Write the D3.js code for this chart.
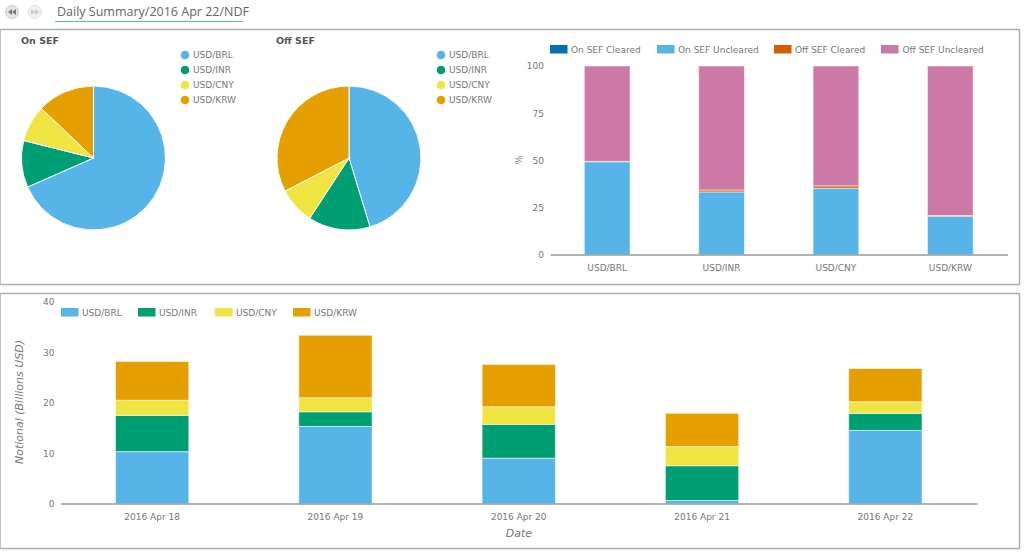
<!DOCTYPE html>
<html lang="en">
<head>
<meta charset="UTF-8">
<title>Daily Summary</title>
<script src="https://d3js.org/d3.v7.min.js"></script>
<style>
    html, body { margin: 0; padding: 0; background: #fff; overflow: hidden; }
    svg { display: block; }
    text { font-family: "DejaVu Sans", sans-serif; font-size: 9px; fill: #777; }
    .crumb { font-family: "Open Sans", sans-serif; font-size: 12.5px; fill: #666; }
    .pie-title { font-weight: bold; font-size: 9.5px; fill: #555; }
    .axis-label { font-style: italic; font-size: 11px; fill: #777; }
    .panel { fill: #fff; stroke: #b0b0b0; stroke-width: 1.5px; }
    .domain { stroke: #666; stroke-width: 1.2px; }
</style>
</head>
<body>
<svg width="1024" height="552"></svg>
<script>
const pairs = ["USD/BRL", "USD/INR", "USD/CNY", "USD/KRW"];
const pairColors = ["#56B4E9", "#009E73", "#F0E442", "#E69F00"];

const onSefShare = [68.4, 10.5, 8.2, 12.9];
const offSefShare = [45.3, 13.9, 8.2, 32.6];

const clearKeys = ["On SEF Cleared", "On SEF Uncleared", "Off SEF Cleared", "Off SEF Uncleared"];
const clearColors = ["#0072B2", "#56B4E9", "#D55E00", "#CC79A7"];
const onCleared = [0, 0, 0, 0];
const onUncleared = [49.2, 33.2, 35.2, 20.3];
const offCleared = [0.2, 1, 1.2, 0.4];
const offUncleared = [50.6, 65.8, 63.6, 79.3];

const dates = ["2016 Apr 18", "2016 Apr 19", "2016 Apr 20", "2016 Apr 21", "2016 Apr 22"];
const brl = [10.3, 15.3, 9, 0.6, 14.5];
const inr = [7.2, 2.9, 6.7, 6.9, 3.4];
const cny = [3, 2.8, 3.5, 3.8, 2.3];
const krw = [7.7, 12.4, 8.4, 6.6, 6.6];

const svg = d3.select("svg");

// header
svg.append("circle").attr("cx", 12).attr("cy", 12).attr("r", 6.5).attr("fill", "#e4e4e4").attr("stroke", "#ccc");
svg.append("circle").attr("cx", 35).attr("cy", 12).attr("r", 6.5).attr("fill", "#f1f1f1").attr("stroke", "#e4e4e4");
svg.append("path").attr("d", "M12 9 L8 12 L12 15 Z M16 9 L12 12 L16 15 Z").attr("fill", "#777");
svg.append("path").attr("d", "M31 9 L35 12 L31 15 Z M35 9 L39 12 L35 15 Z").attr("fill", "#ccc");
svg.append("text").attr("class", "crumb").attr("x", 57).attr("y", 16).text("Daily Summary/2016 Apr 22/NDF");
svg.append("line").attr("x1", 55).attr("x2", 243).attr("y1", 21.5).attr("y2", 21.5).attr("stroke", "#56B4E9");

svg.append("rect").attr("class", "panel").attr("x", 0).attr("y", 29.5).attr("width", 1019.5).attr("height", 255);
svg.append("rect").attr("class", "panel").attr("x", 0).attr("y", 293.5).attr("width", 1019.5).attr("height", 255);

// pies
function drawPie(values, title, cx, titleX, legendX) {
    const arc = d3.arc().innerRadius(0).outerRadius(72);
    const pie = d3.pie().sort(null);
    svg.append("g").attr("transform", `translate(${cx},158)`)
        .selectAll("path").data(pie(values)).enter().append("path")
        .attr("d", arc)
        .attr("fill", (d, i) => pairColors[i])
        .attr("stroke", "#fff")
        .attr("stroke-width", 1);
    svg.append("text").attr("class", "pie-title").attr("x", titleX).attr("y", 44).text(title);
    const item = svg.append("g").selectAll("g").data(pairs).enter().append("g")
        .attr("transform", (d, i) => `translate(${legendX},${55 + i * 15})`);
    item.append("circle").attr("r", 4.3).attr("fill", (d, i) => pairColors[i]);
    item.append("text").attr("x", 8).attr("y", 3.2).text(d => d);
}
drawPie(onSefShare, "On SEF", 93.5, 21, 185);
drawPie(offSefShare, "Off SEF", 349, 276, 441);

function drawStack(cats, seriesValues, colors, xRange, yRange, yMax, yTicks, padding) {
    const rows = cats.map((c, i) => {
        const r = { cat: c };
        seriesValues.forEach((s, k) => { r[k] = s[i]; });
        return r;
    });
    const x = d3.scaleBand().domain(cats).range(xRange).paddingInner(padding).paddingOuter(padding / 2);
    const y = d3.scaleLinear().domain([0, yMax]).range(yRange);
    const layers = d3.stack().keys(seriesValues.map((s, k) => k))(rows);

    svg.append("g").selectAll("g").data(layers).enter().append("g")
        .attr("fill", (d, i) => colors[i])
        .selectAll("rect").data(d => d).enter().append("rect")
        .attr("x", d => x(d.data.cat))
        .attr("y", d => y(d[1]))
        .attr("width", x.bandwidth())
        .attr("height", d => y(d[0]) - y(d[1]))
        .attr("stroke", "#fff")
        .attr("stroke-opacity", 0.55)
        .attr("stroke-width", 1);

    const xAxis = svg.append("g").attr("transform", `translate(0,${yRange[0]})`)
        .call(d3.axisBottom(x).tickSize(0).tickPadding(10));
    const yAxis = svg.append("g").attr("transform", `translate(${xRange[0]},0)`)
        .call(d3.axisLeft(y).tickValues(yTicks).tickSize(0).tickPadding(6));
    yAxis.select(".domain").remove();
    xAxis.selectAll("text").style("font-family", null).style("font-size", null);
    xAxis.attr("font-family", null).attr("font-size", null);
    yAxis.attr("font-family", null).attr("font-size", null);
}

function drawLegend(keys, colors, xs, textXs, yTop) {
    keys.forEach((k, i) => {
        svg.append("rect").attr("x", xs[i]).attr("y", yTop).attr("width", 17.5).attr("height", 8.5).attr("fill", colors[i]);
        svg.append("text").attr("x", textXs[i]).attr("y", yTop + 7.5).text(k);
    });
}

// cleared share
drawStack(pairs, [onCleared, onUncleared, offCleared, offUncleared], clearColors, [550, 1007.5], [254.5, 66], 100, [0, 25, 50, 75, 100], 0.6);
drawLegend(clearKeys, clearColors, [550, 657, 774, 881], [571, 678, 795, 902.5], 45);
svg.append("text").attr("transform", "translate(522,160) rotate(-90)").attr("text-anchor", "middle").text("%");

// notional by day
drawStack(dates, [brl, inr, cny, krw], pairColors, [60.5, 977], [503.5, 302], 40, [0, 10, 20, 30, 40], 0.6);
drawLegend(pairs, pairColors, [61, 138, 215, 293], [82, 159, 236, 314], 308);
svg.append("text").attr("class", "axis-label").attr("transform", "translate(23,402) rotate(-90)").attr("text-anchor", "middle").text("Notional (Billions USD)");
svg.append("text").attr("class", "axis-label").attr("x", 519).attr("y", 537).attr("text-anchor", "middle").text("Date");
</script>
</body>
</html>
